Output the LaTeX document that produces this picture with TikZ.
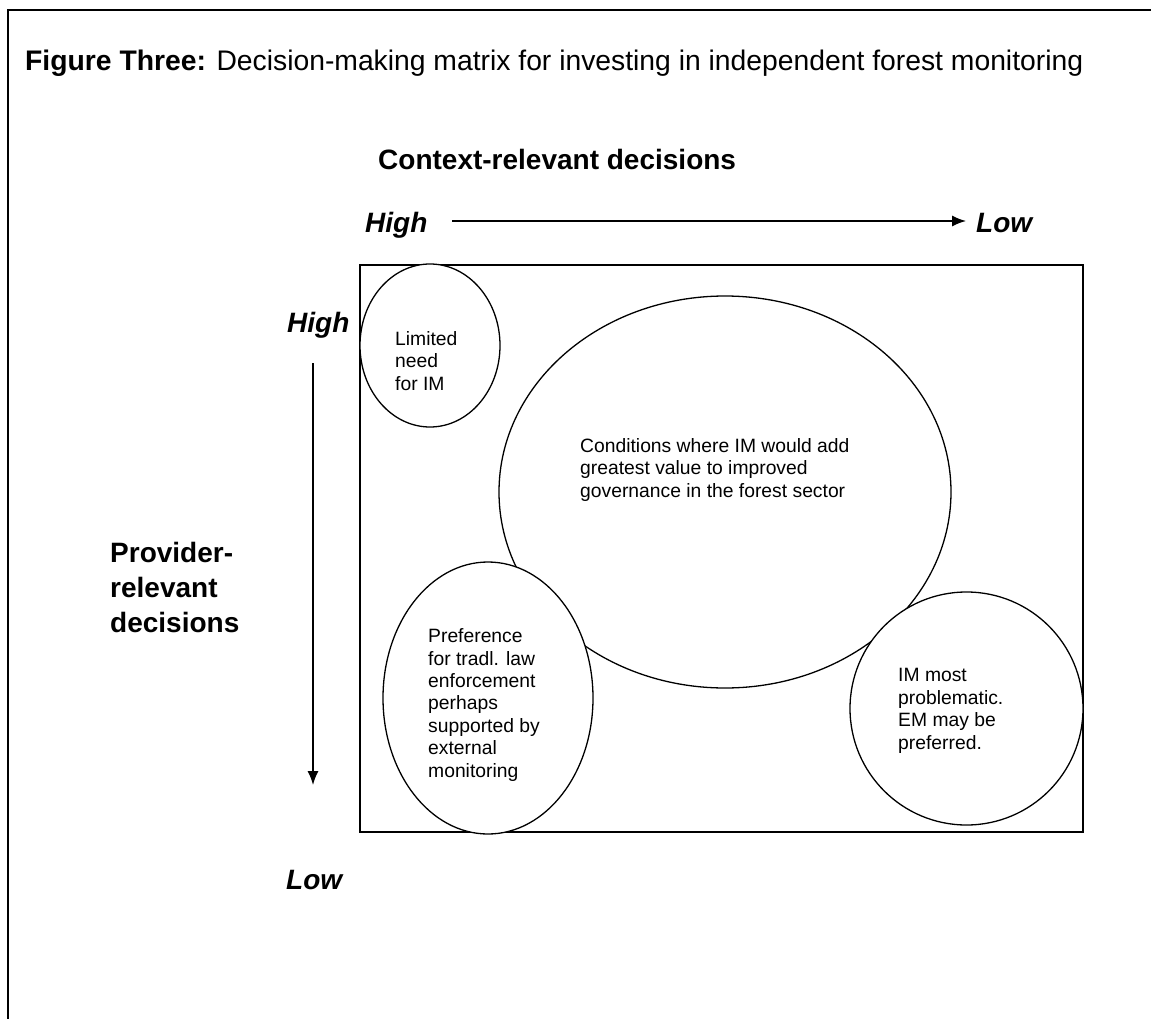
\documentclass[tikz,border=0pt]{standalone}
\usepackage{fontspec}
\setmainfont{Liberation Sans}
\usetikzlibrary{shapes.geometric,arrows.meta}

\begin{document}
\begin{tikzpicture}[x=1pt, y=-1pt,
    label/.style={font=\fontsize{28}{35}\selectfont\bfseries, inner sep=0, anchor=base west, align=left},
    level/.style={font=\fontsize{28}{35}\selectfont\bfseries\itshape, inner sep=0, anchor=base west},
    blob/.style={ellipse, draw, line width=1.3pt, fill=white, inner sep=0},
    blobtext/.style={font=\fontsize{19.3}{22.4}\selectfont, inner sep=0, anchor=base west, align=left},
    axis/.style={line width=1.4pt, -{Latex[length=14pt, width=11pt]}}]
\useasboundingbox (0,0) rectangle (1151,1019);
\draw [line width=2pt] (1151,10) -- (8,10) -- (8,1019);
\node [anchor=base west, inner sep=0, font=\fontsize{28.3}{34}\selectfont] (title) at (25,71)
  {\textbf{Figure Three:} Decision-making matrix for investing in independent forest monitoring};

\node [label] (context) at (378,170) {Context-relevant decisions};
\node [level] (hhigh) at (365,233) {High};
\node [level] (hlow) at (976,233) {Low};
\coordinate (hstart) at (452,221);
\coordinate (hend) at (966,221);
\draw [axis] (hstart) -- (hend);

\node [level] (vhigh) at (287,332) {High};
\node [level] (vlow) at (286,889) {Low};
\coordinate (vstart) at (313,363);
\coordinate (vend) at (313,785);
\draw [axis] (vstart) -- (vend);
% base anchor of a multi-line node sits on its last line
\node [label] (provider) at (110,632) {Provider-\\relevant\\decisions};

\draw [line width=1.5pt] (360,265) rectangle (1083,832);

\node [blob, minimum width=452pt, minimum height=392pt] (greatest) at (725,492) {};
\node [blob, minimum width=140pt, minimum height=163pt] (limited) at (430,345.5) {};
\node [blob, minimum width=210pt, minimum height=272pt] (tradl) at (488,698) {};
\node [blob, minimum width=233pt, minimum height=233pt] (problem) at (966.5,708.5) {};

\node [blobtext] (limitedtext) at (395,390) {Limited\\need\\for IM};
\node [blobtext] (greatesttext) at (580,497) {Conditions where IM would add\\greatest value to improved\\governance in the forest sector};
\node [blobtext] (tradltext) at (428,777) {Preference\\for tradl. law\\enforcement\\perhaps\\supported by\\external\\monitoring};
\node [blobtext] (problemtext) at (898,749) {IM most\\problematic.\\EM may be\\preferred.};
\end{tikzpicture}
\end{document}
